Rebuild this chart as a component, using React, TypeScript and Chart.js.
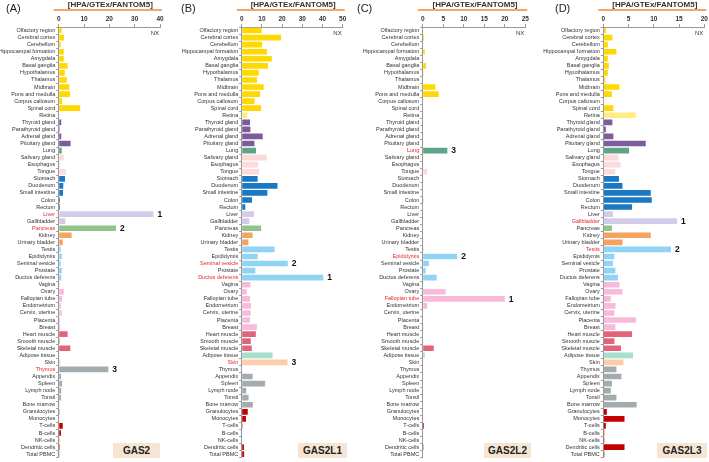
import React, { useEffect, useRef } from 'react';
import { Chart, registerables } from 'chart.js';
Chart.register(...registerables);

const categories = [
  'Olfactory region', 'Cerebral cortex', 'Cerebellum', 'Hippocampal formation', 'Amygdala', 'Basal ganglia',
  'Hypothalamus', 'Thalamus', 'Midbrain', 'Pons and medulla', 'Corpus callosum', 'Spinal cord', 'Retina',
  'Thyroid gland', 'Parathyroid gland', 'Adrenal gland', 'Pituitary gland', 'Lung', 'Salivary gland',
  'Esophagus', 'Tongue', 'Stomach', 'Duodenum', 'Small intestine', 'Colon', 'Rectum', 'Liver', 'Gallbladder',
  'Pancreas', 'Kidney', 'Urinary bladder', 'Testis', 'Epididymis', 'Seminal vesicle', 'Prostate',
  'Ductus deferens', 'Vagina', 'Ovary', 'Fallopian tube', 'Endometrium', 'Cervix, uterine', 'Placenta',
  'Breast', 'Heart muscle', 'Smooth muscle', 'Skeletal muscle', 'Adipose tissue', 'Skin', 'Thymus',
  'Appendix', 'Spleen', 'Lymph node', 'Tonsil', 'Bone marrow', 'Granulocytes', 'Monocytes', 'T-cells',
  'B-cells', 'NK-cells', 'Dendritic cells', 'Total PBMC',
];

// tissue group of each category (index into groupColors)
const categoryGroups = [
  0, 0, 0, 0, 0, 0, 0, 0, 0, 0, 0, 0, 1,
  2, 2, 2, 2, 3, 4, 4, 4, 5, 5, 5, 5, 5, 6, 6, 7, 8, 8,
  9, 9, 9, 9, 9, 10, 10, 10, 10, 10, 10, 10, 11, 11, 11, 12, 13,
  14, 14, 14, 14, 14, 14, 15, 15, 15, 15, 15, 15, 15,
];
const groupColors = [
  '#FFD800', '#FFEC85', '#7D5C9C', '#5FA488', '#FCDADC', '#1B79C3', '#D3CCE8', '#8FC58A',
  '#F6A35F', '#90D3F4', '#F8BADB', '#E0657A', '#A6DFCC', '#FECBAB', '#A4ABAE', '#C20000',
];

const gas2 = [
  1.2, 2.1, 0.8, 2.0, 2.0, 3.5, 2.4, 3.2, 4.2, 4.5, 1.3, 8.5, 0.1,
  1.0, 0.4, 1.0, 4.7, 1.2, 2.0, 0.6, 2.8, 2.5, 1.8, 1.7, 0.5, 0.5, 37.4, 2.6,
  22.6, 5.1, 1.6, 0.8, 1.2, 0.8, 1.2, 1.0, 0.4, 2.0, 1.3, 0.8, 1.2, 0.5,
  0.6, 3.5, 0.4, 4.6, 0.3, 0.6, 19.6, 0.9, 1.3, 1.0, 0.9, 0.3, 0.3, 0, 1.6,
  0.9, 0.1, 0.4, 0.1,
];
const gas2l1 = [
  9.9, 19.5, 10.1, 12.5, 14.9, 13.0, 8.4, 7.6, 10.9, 9.1, 6.3, 9.6, 2.8,
  4.1, 4.3, 10.4, 6.3, 7.1, 12.4, 8.1, 8.7, 7.9, 17.7, 12.7, 5.1, 1.8, 6.1, 3.8,
  9.6, 5.4, 3.3, 16.3, 7.9, 22.8, 6.8, 40.4, 4.3, 2.5, 4.1, 4.6, 4.4, 4.1,
  7.5, 7.0, 4.5, 5.0, 15.3, 22.7, 0, 5.4, 11.6, 2.2, 3.4, 5.5, 3.0, 2.1, 0.4,
  0, 0, 1.1, 1.2,
];
const gas2l2 = [
  0, 0.3, 0, 0.5, 0, 0.8, 0.2, 0, 3.1, 3.9, 0, 0, 0,
  0, 0, 0, 0, 6.0, 0, 0, 1.1, 0, 0, 0, 0.15, 0, 0, 0,
  0, 0, 0, 0.2, 8.4, 1.5, 0.7, 3.4, 0, 5.6, 20.0, 1.1, 0, 0,
  0.2, 0, 0, 2.7, 0.5, 0.15, 0, 0, 0, 0, 0, 0, 0, 0, 0.3,
  0, 0, 0.2, 0,
];
const gas2l3 = [
  0.5, 1.8, 0.9, 2.6, 0.9, 1.1, 0.9, 0.4, 3.2, 1.7, 0.05, 2.0, 6.5,
  1.8, 0.5, 2.0, 8.4, 5.1, 3.0, 3.4, 2.4, 3.1, 3.8, 9.4, 9.6, 5.7, 1.9, 14.6,
  1.7, 9.4, 3.8, 13.4, 2.2, 1.9, 2.4, 2.9, 3.2, 3.8, 1.5, 2.4, 2.2, 6.5,
  2.4, 5.7, 2.2, 3.5, 5.9, 4.0, 2.6, 3.6, 1.7, 1.5, 2.6, 6.6, 0.7, 4.2, 0.5,
  0.2, 0.2, 4.2, 0.2,
];

const genes = ['GAS2', 'GAS2L1', 'GAS2L2', 'GAS2L3'];
const panelLetters = ['(A)', '(B)', '(C)', '(D)'];
const axisMax = [40, 50, 25, 20];
const axisStep = [10, 10, 5, 5];
const highlightTissues = [
  ['Liver', 'Pancreas', 'Thymus'],
  ['Ductus deferens', 'Seminal vesicle', 'Skin'],
  ['Fallopian tube', 'Epididymis', 'Lung'],
  ['Gallbladder', 'Testis'],
];
const headerText = '[HPA/GTEx/FANTOM5]';
const seriesList = [gas2, gas2l1, gas2l2, gas2l3];

const FONT = '"Liberation Sans", Arial, Helvetica, sans-serif';
const H = 462;

type PanelProps = {
  idx: number;
  left: number;
  width: number;
  chartLeft: number;
  chartRight: number;
  boxLeft: number;
  boxWidth: number;
  letterLeft: number;
};

function Panel(p: PanelProps) {
  const ref = useRef<HTMLCanvasElement | null>(null);
  useEffect(() => {
    const values = seriesList[p.idx];
    const hl = highlightTissues[p.idx];
    const overlay = {
      id: 'overlay',
      afterDraw(chart: any) {
        const ctx = chart.ctx;
        const ca = chart.chartArea;
        ctx.save();
        // header line + text
        ctx.strokeStyle = '#F5A46C';
        ctx.lineWidth = 2.2;
        ctx.beginPath();
        ctx.moveTo(ca.left - 5, 10);
        ctx.lineTo(ca.right + 2, 10);
        ctx.stroke();
        ctx.fillStyle = '#333';
        ctx.font = `bold 8px ${FONT}`;
        ctx.textAlign = 'center';
        ctx.textBaseline = 'middle';
        ctx.fillText(headerText, (ca.left + ca.right) / 2 + 1, 4.5);
        // NX
        ctx.font = `6px ${FONT}`;
        ctx.textAlign = 'right';
        ctx.fillStyle = '#333';
        ctx.fillText('NX', ca.right - 1, 33);
        // rank labels
        const meta = chart.getDatasetMeta(0);
        ctx.font = `bold 8.5px ${FONT}`;
        ctx.textAlign = 'left';
        ctx.fillStyle = '#111';
        hl.forEach((t, r) => {
          const i = categories.indexOf(t);
          const el = meta.data[i];
          ctx.fillText(String(r + 1), el.x + 4, el.y + 0.5);
        });
        ctx.restore();
      },
    };
    const chart = new Chart(ref.current as HTMLCanvasElement, {
      type: 'bar',
      data: {
        labels: categories,
        datasets: [
          {
            data: values,
            backgroundColor: categoryGroups.map((g) => groupColors[g]),
            barPercentage: 0.8,
            categoryPercentage: 1,
          },
        ],
      },
      options: {
        indexAxis: 'y',
        responsive: false,
        maintainAspectRatio: false,
        animation: false,
        layout: { padding: { left: 0, right: p.width - p.chartRight, top: 0, bottom: 1.5 } },
        plugins: { legend: { display: false }, tooltip: { enabled: false }, title: { display: false } },
        scales: {
          x: {
            position: 'top',
            min: 0,
            max: axisMax[p.idx],
            ticks: {
              stepSize: axisStep[p.idx],
              font: { family: FONT, size: 6.5, weight: 'bold' },
              color: '#333',
              padding: 1,
              maxRotation: 0,
            },
            grid: { drawOnChartArea: false, tickLength: 3, color: '#999' },
            border: { color: '#999', width: 1 },
            afterFit: (s: any) => {
              s.height = 27;
            },
          },
          y: {
            ticks: {
              autoSkip: false,
              font: { family: FONT, size: 5.5 },
              color: (c: any) => (hl.includes(categories[c.index]) ? '#E8262A' : '#333'),
              padding: 1,
            },
            grid: { drawOnChartArea: false, tickLength: 2.5, color: '#999' },
            border: { color: '#999', width: 1 },
            afterFit: (s: any) => {
              s.width = p.chartLeft;
            },
          },
        },
      },
      plugins: [overlay],
    } as any);
    return () => chart.destroy();
  }, []);
  return (
    <div style={{ position: 'absolute', left: p.left, top: 0, width: p.width, height: H }}>
      <canvas ref={ref} width={p.width} height={H} style={{ width: p.width, height: H, display: 'block' }} />
      <div
        style={{
          position: 'absolute',
          left: p.letterLeft,
          top: 2,
          fontFamily: FONT,
          fontSize: 11,
          color: '#222',
          lineHeight: '12px',
        }}
      >
        {panelLetters[p.idx]}
      </div>
      <div
        style={{
          position: 'absolute',
          left: p.boxLeft,
          top: 443,
          width: p.boxWidth,
          height: 15,
          background: '#F7E5D3',
          fontFamily: FONT,
          fontWeight: 'bold',
          fontSize: 10,
          lineHeight: '15px',
          textAlign: 'center',
          color: '#222',
        }}
      >
        {genes[p.idx]}
      </div>
    </div>
  );
}

export default function App() {
  return (
    <div style={{ position: 'fixed', left: 0, top: 0, width: 709, height: H, background: '#fff', overflow: 'hidden' }}>
      <Panel idx={0} left={0} width={177} chartLeft={58.7} chartRight={160} boxLeft={113} boxWidth={47} letterLeft={6} />
      <Panel idx={1} left={177} width={178} chartLeft={64.7} chartRight={165.7} boxLeft={121} boxWidth={49} letterLeft={4} />
      <Panel idx={2} left={355} width={178} chartLeft={67.7} chartRight={170.3} boxLeft={129} boxWidth={47} letterLeft={2} />
      <Panel idx={3} left={533} width={176} chartLeft={70.3} chartRight={171.3} boxLeft={124} boxWidth={50} letterLeft={22} />
    </div>
  );
}
